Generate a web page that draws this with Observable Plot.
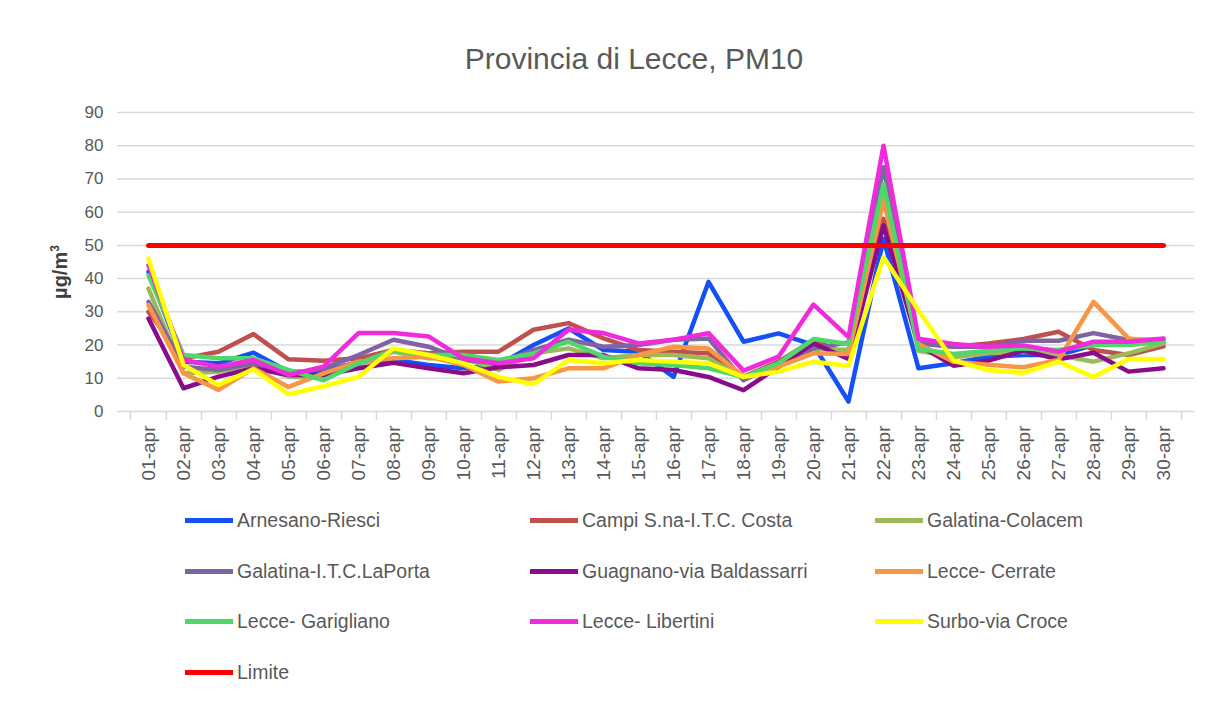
<!DOCTYPE html>
<html><head><meta charset="utf-8">
<script src="https://cdn.jsdelivr.net/npm/d3@7"></script>
<script src="https://cdn.jsdelivr.net/npm/@observablehq/plot@0.6"></script>
<style>
body{margin:0;background:#fff;font-family:"Liberation Sans",sans-serif;}
#wrap{position:relative;width:1208px;height:711px;overflow:hidden;}
#title{position:absolute;top:42px;left:30px;width:1208px;text-align:center;font-size:30px;color:#595959;}
#chart{position:absolute;top:0;left:0;}
#ylab{position:absolute;left:60px;top:272px;transform:translate(-50%,-50%) rotate(-90deg);font-size:20px;font-weight:bold;color:#404040;white-space:nowrap;}
#ylab sup{font-size:12px;}
.leg{position:absolute;display:flex;align-items:center;font-size:19.5px;color:#595959;white-space:nowrap;}
.leg span.sw{display:inline-block;width:48px;height:5px;margin-right:4px;}
</style>
</head><body>
<div id="wrap">
<div id="chart"></div>
<div id="title">Provincia di Lecce, PM10</div>
<div id="ylab">µg/m<sup>3</sup></div>
<div id="legend"></div>
</div>
<script>
const days = ["01-apr","02-apr","03-apr","04-apr","05-apr","06-apr","07-apr","08-apr","09-apr","10-apr","11-apr","12-apr","13-apr","14-apr","15-apr","16-apr","17-apr","18-apr","19-apr","20-apr","21-apr","22-apr","23-apr","24-apr","25-apr","26-apr","27-apr","28-apr","29-apr","30-apr"];
const seriesNames = ["Arnesano-Riesci","Campi S.na-I.T.C. Costa","Galatina-Colacem","Galatina-I.T.C.LaPorta","Guagnano-via Baldassarri","Lecce- Cerrate","Lecce- Garigliano","Lecce- Libertini","Surbo-via Croce","Limite"];
const seriesColors = ["#1450F5","#C0504D","#9BBB59","#8064A2","#8B0C8B","#F79646","#50D66A","#F02BDC","#FFFF00","#FF0000"];
const arnesano   = [42,15,14.5,17.7,12,12,15,15.5,14,13,14,20,25,18.5,18,10.4,39,21,23.5,20,3,52,13,14.5,16.5,17,17,20,21,21];
const campi      = [30,16,18,23.3,15.7,15.3,16,18.5,17.5,18,18,24.6,26.6,22,18.5,18,17.5,10.5,15,21.5,17,58,21,19.5,20.5,21.8,24,18.5,17,19.6];
const colacem    = [37,11.5,12,14,10.5,10,14,18,16,16,12.5,17.5,19,16,17,17,16,10,13.5,19,18.5,66,18.3,16.3,17.5,18,17,15,17.5,20.5];
const laporta    = [33,13.5,12.5,14.5,11,13,17,21.6,19.5,15.5,14.5,18.5,21.6,19.5,20,21.6,22,9.4,14.5,19,20.8,73.5,20.5,19.5,19.5,21.3,21.3,23.6,21.5,21.6];
const guagnano   = [28,7,10.5,13,11,11,13,14.7,13,11.5,13.3,14,17,17,13,12.5,10.4,6.4,13.5,20.5,15.8,56,20,13.8,15.3,18.3,15.7,17.7,12,13];
const cerrate    = [32,11.5,6.5,13,7.4,11.5,15,16,16.5,14,9,10,13,13,17,19.5,19,10.5,13.5,17.5,17.3,63.5,20.3,15,14.1,13.3,15.5,33,22,21];
const garigliano = [41,17,16,16,12.5,9.4,14.5,18.5,17,17,15.5,17.5,21,16.5,14.5,14,13,10.4,14.5,21.8,20.3,68.5,18.8,17.3,18.3,19,18.5,20,20,21];
const libertini  = [44,15.5,13.5,15.5,11,13.5,23.6,23.6,22.6,16,14.5,16,24.6,23.6,20.5,21.6,23.6,12.3,16.5,32.2,22.4,80,21.9,20.3,19.5,19.9,18,21,21,22];
const surbo      = [46,14,8,12.7,5.2,7.6,10.4,19,17,14.5,10.4,8.2,15.5,14.5,15.5,15,14.5,10.4,12,15,13.8,46.5,30.4,15.3,12.5,11.6,15,10.4,15.8,15.8];
const limite     = days.map(() => 50);
const yTicks = [0,10,20,30,40,50,60,70,80,90];

const allSeries = [arnesano,campi,colacem,laporta,guagnano,cerrate,garigliano,libertini,surbo,limite];
const rows = [];
allSeries.forEach((vals, si) => vals.forEach((v, di) => rows.push({series: seriesNames[si], day: days[di], value: v})));

const W = 1208, H = 500, mL = 117, mR = 14, mT = 112, mB = 89;
const half = (W - mL - mR) / days.length / 2;

const chart = Plot.plot({
  width: W, height: H,
  marginLeft: mL, marginRight: mR, marginTop: mT, marginBottom: mB,
  style: {fontFamily: '"Liberation Sans",sans-serif', background: "transparent"},
  x: {type: "point", domain: days, padding: 0.5},
  y: {domain: [0, 90]},
  color: {domain: seriesNames, range: seriesColors},
  marks: [
    Plot.gridY(yTicks, {stroke: "#d9d9d9", strokeOpacity: 1, strokeWidth: 1.5}),
    Plot.axisY(yTicks, {tickSize: 0, tickPadding: 14, fontSize: 17, color: "#595959", label: null}),
    Plot.axisX(days, {tickSize: 9, text: null, dx: half, stroke: "#d9d9d9", strokeWidth: 1.5, label: null}),
    Plot.axisX([days[0]], {tickSize: 9, text: null, dx: -half, stroke: "#d9d9d9", strokeWidth: 1.5, label: null}),
    Plot.axisX(days, {tickSize: 0, tickRotate: -90, tickPadding: 14, fontSize: 19, color: "#595959", label: null}),
    Plot.line(rows.filter(d => d.series !== "Limite"), {x: "day", y: "value", z: "series", stroke: "series", strokeWidth: 4.5}),
    Plot.line(rows.filter(d => d.series === "Limite"), {x: "day", y: "value", stroke: "series", strokeWidth: 5})
  ]
});
document.getElementById("chart").appendChild(chart);

const legX = [185, 530, 875], legY = [521, 572, 622, 673];
const legend = document.getElementById("legend");
seriesNames.forEach((name, i) => {
  const d = document.createElement("div");
  d.className = "leg";
  d.style.left = legX[i % 3] + "px";
  d.style.top = (legY[Math.floor(i / 3)] - 12) + "px";
  d.innerHTML = `<span class="sw" style="background:${seriesColors[i]}"></span>${name}`;
  legend.appendChild(d);
});
</script>
</body></html>
